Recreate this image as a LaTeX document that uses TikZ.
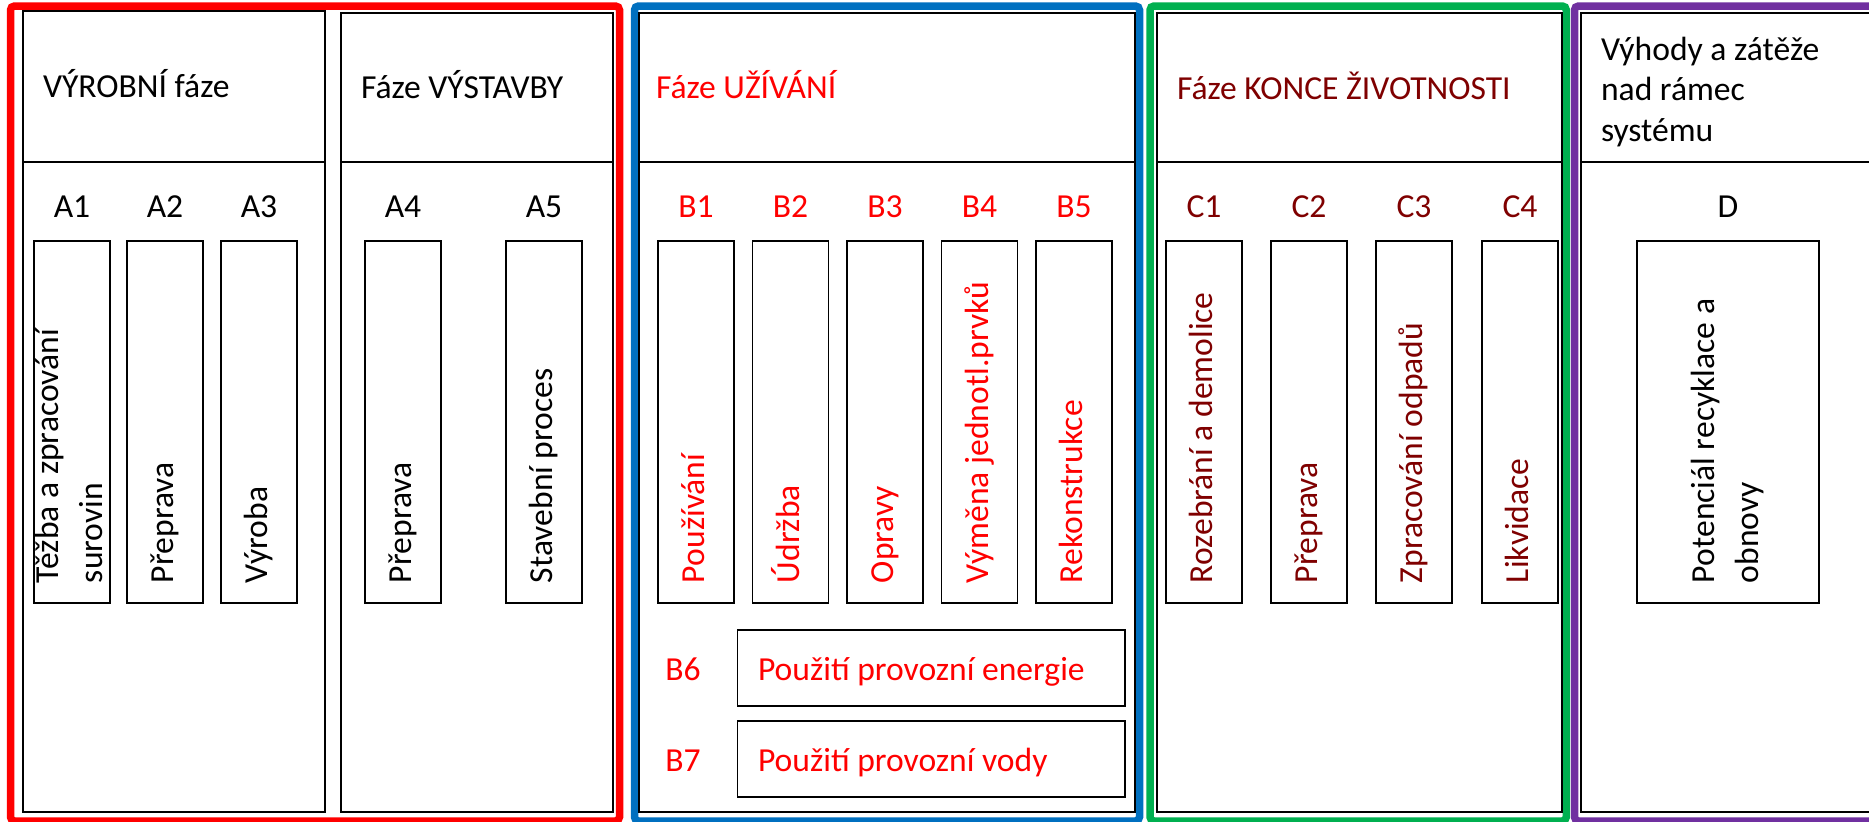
\documentclass[tikz,border=0pt]{standalone}
\usepackage{fontspec}
\setmainfont{Carlito}
\definecolor{cRed}{HTML}{FF0000}
\definecolor{cBlue}{HTML}{0070C0}
\definecolor{cGreen}{HTML}{00B050}
\definecolor{cPurple}{HTML}{7030A0}
\definecolor{cMaroon}{HTML}{7F0000}
\begin{document}
\begin{tikzpicture}[x=1pt,y=-1pt,
  every node/.style={inner sep=0pt, outer sep=0pt},
  txt/.style={font=\fontsize{33.6}{40.5}\selectfont},
  frame/.style={line width=7.5pt, rounded corners=4pt},
  bigbox/.style={draw=black, line width=2pt},
  divline/.style={draw=black, line width=2pt},
  sbox/.style={draw=black, line width=1.8pt, minimum width=76, minimum height=362},
  wbox/.style={draw=black, line width=1.8pt, minimum width=387.5, minimum height=76},
  vtxt/.style={font=\fontsize{33.6}{44}\selectfont, rotate=90, anchor=west, align=left},
  lbl/.style={txt, anchor=base},
  head/.style={txt, anchor=base west, align=left},
]
\useasboundingbox (0,0) rectangle (1869,822);
\fill[white] (0,0) rectangle (1869,822);
\clip (0,0) rectangle (1869,822);

% coloured frames
\draw[frame, cRed]    (10.5,6) rectangle (619.5,821);
\draw[frame, cBlue]   (634.5,6) rectangle (1139.5,821);
\draw[frame, cGreen]  (1150,6) rectangle (1566.3,821);
\draw[frame, cPurple] (1574.5,6) rectangle (1900,821);

% big boxes
\node[bigbox, minimum width=302, minimum height=801] (p1) at (174,411.5) {};
\node[bigbox, minimum width=272, minimum height=799] (p2) at (477,412.5) {};
\node[bigbox, minimum width=496, minimum height=799] (p3) at (887,412.5) {};
\node[bigbox, minimum width=405, minimum height=799] (p4) at (1359.5,412.5) {};
\node[bigbox, minimum width=330, minimum height=799] (p5) at (1746,412.5) {};

\coordinate (hy) at (0,162);
\foreach \p in {p1,p2,p3,p4,p5}{
  \draw[divline] (\p.west |- hy) -- (\p.east |- hy);
}

% headers
\node[head] (h1) at (43,97) {VÝROBNÍ fáze};
\node[head] (h2) at (361,98) {Fáze VÝSTAVBY};
\node[head, text=cRed] (h3) at (656,98) {Fáze UŽÍVÁNÍ};
\node[head, text=cMaroon] (h4) at (1177,99) {Fáze KONCE ŽIVOTNOSTI};
\node[head, anchor=north west] (h5) at (1601,32) {\strut Výhody a zátěže\\nad rámec\\systému};

% A boxes
\node[sbox] (a1) at (72,422) {};
\node[sbox] (a2) at (165,422) {};
\node[sbox] (a3) at (259,422) {};
\node[sbox] (a4) at (403,422) {};
\node[sbox] (a5) at (544,422) {};
% B boxes
\node[sbox] (b1) at (696,422) {};
\node[sbox] (b2) at (790.5,422) {};
\node[sbox] (b3) at (885,422) {};
\node[sbox] (b4) at (979.5,422) {};
\node[sbox] (b5) at (1074,422) {};
\node[wbox] (b6) at (931.25,668) {};
\node[wbox] (b7) at (931.25,759) {};
% C boxes
\node[sbox] (c1) at (1204,422) {};
\node[sbox] (c2) at (1309,422) {};
\node[sbox] (c3) at (1414,422) {};
\node[sbox] (c4) at (1520,422) {};
% D box
\node[sbox, minimum width=182] (d1) at (1728,422) {};

% labels
\foreach \n/\t in {a1/A1,a2/A2,a3/A3,a4/A4,a5/A5}{
  \node[lbl] (l\n) at (\n.north |- 0,217) {\t};
}
\foreach \n/\t in {b1/B1,b2/B2,b3/B3,b4/B4,b5/B5}{
  \node[lbl, text=cRed] (l\n) at (\n.north |- 0,217) {\t};
}
\foreach \n/\t in {c1/C1,c2/C2,c3/C3,c4/C4}{
  \node[lbl, text=cMaroon] (l\n) at (\n.north |- 0,217) {\t};
}
\node[lbl] (ld1) at (d1.north |- 0,217) {D};
\node[lbl, text=cRed] (lb6) at (683,680) {B6};
\node[lbl, text=cRed] (lb7) at (683,771) {B7};

% rotated texts
\node[vtxt] (ta1) at (72,583) {\strut Těžba a zpracování\\surovin\strut};
\node[vtxt] (ta2) at (165,583) {\strut Přeprava};
\node[vtxt] (ta3) at (259,583) {\strut Výroba};
\node[vtxt] (ta4) at (403,583) {\strut Přeprava};
\node[vtxt] (ta5) at (544,583) {\strut Stavební proces};

\node[vtxt, text=cRed] (tb1) at (696,583) {\strut Používání};
\node[vtxt, text=cRed] (tb2) at (790.5,583) {\strut Údržba};
\node[vtxt, text=cRed] (tb3) at (885,583) {\strut Opravy};
\node[vtxt, text=cRed] (tb4) at (979.5,583) {\strut Výměna jednotl.prvků};
\node[vtxt, text=cRed] (tb5) at (1074,583) {\strut Rekonstrukce};

\node[vtxt, text=cMaroon] (tc1) at (1204,583) {\strut Rozebrání a demolice};
\node[vtxt, text=cMaroon] (tc2) at (1309,583) {\strut Přeprava};
\node[vtxt, text=cMaroon] (tc3) at (1414,583) {\strut Zpracování odpadů};
\node[vtxt, text=cMaroon] (tc4) at (1520,583) {\strut Likvidace};

\node[vtxt] (td1) at (1728,583) {\strut Potenciál recyklace a\\obnovy\strut};

% B6 / B7 texts
\node[txt, anchor=base west, text=cRed] (tb6) at (758,680) {Použití provozní energie};
\node[txt, anchor=base west, text=cRed] (tb7) at (758,771) {Použití provozní vody};
\end{tikzpicture}
\end{document}
